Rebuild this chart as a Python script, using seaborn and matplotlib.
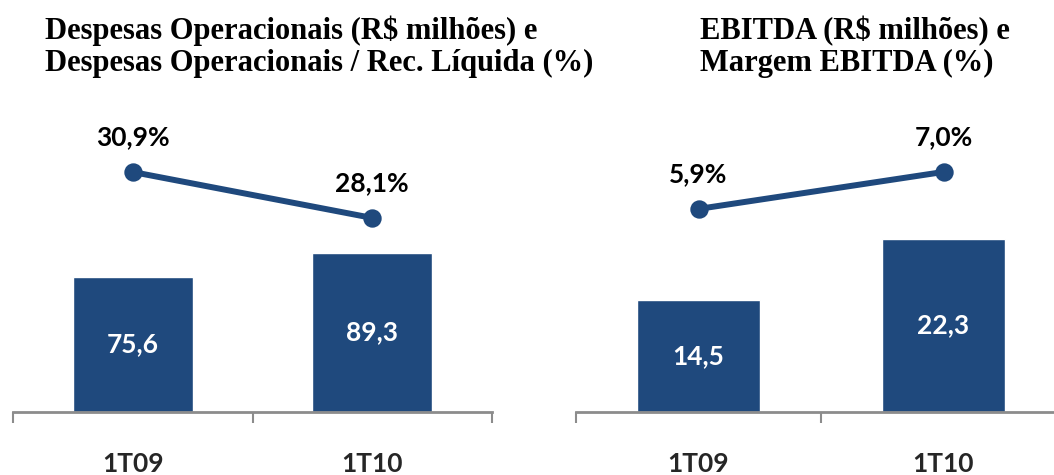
import matplotlib
matplotlib.use("Agg")
import matplotlib.pyplot as plt
import seaborn as sns

# Data
quarters = ["1T09", "1T10"]
despesas = [75.6, 89.3]
despesas_pct = [30.9, 28.1]
ebitda = [14.5, 22.3]
margem_pct = [5.9, 7.0]

bar_color = "#1F497D"
axis_grey = "#8C8C8C"

sns.set_theme(style="white")
plt.rcParams["font.family"] = ["Lato", "DejaVu Sans"]

fig = plt.figure(figsize=(10.54, 4.75), dpi=100)

# axes rectangles in figure fractions (baseline at 63 px from bottom, top at 375 px)
ax_left = fig.add_axes([13 / 1054, 63 / 475, 479 / 1054, 312 / 475])
ax_right = fig.add_axes([576 / 1054, 63 / 475, 490 / 1054, 312 / 475])


def draw_panel(ax, bars, pcts, bar_top, pct_lim):
    sns.barplot(x=quarters, y=bars, ax=ax, color=bar_color, width=0.5, saturation=1)
    ax.set_ylim(0, bar_top)
    ax.set_xlim(-0.5, 1.5)
    for i, v in enumerate(bars):
        ax.text(i, v / 2, f"{v:.1f}".replace(".", ","), ha="center", va="center",
                color="white", fontsize=19, fontweight="bold")

    ax2 = ax.twinx()
    sns.pointplot(x=quarters, y=pcts, ax=ax2, color=bar_color, markersize=10,
                  linewidth=4.3, markers="o")
    ax2.set_ylim(*pct_lim)
    ax2.set_xlim(-0.5, 1.5)
    span = pct_lim[1] - pct_lim[0]
    for i, v in enumerate(pcts):
        ax2.text(i, v + span * 0.112, f"{v:.1f}%".replace(".", ","), ha="center",
                 va="center", color="black", fontsize=19, fontweight="bold")
    ax2.axis("off")

    # axis styling
    for s in ["top", "left", "right"]:
        ax.spines[s].set_visible(False)
    ax.spines["bottom"].set_color(axis_grey)
    ax.spines["bottom"].set_linewidth(2)
    ax.set_yticks([])
    ax.set_xticks([-0.5, 0.5, 1.5])
    ax.set_xticklabels([])
    ax.tick_params(axis="x", which="major", direction="out", length=8, width=1.5,
                   color=axis_grey, bottom=True)
    ax.set_xticks([0, 1], minor=True)
    ax.set_xticklabels(quarters, minor=True, fontsize=19, fontweight="bold")
    ax.tick_params(axis="x", which="minor", length=0, pad=29, bottom=True)
    ax.set_xlabel("")
    ax.set_ylabel("")


draw_panel(ax_left, despesas, despesas_pct, 174.7, (16.27, 35.29))
draw_panel(ax_right, ebitda, margem_pct, 40.26, (-0.14, 9.14))

title_font = dict(family="Liberation Serif", fontsize=22, fontweight="bold",
                  color="black", ha="left", va="center", linespacing=1.15)
fig.text(45 / 1054, 1 - 47 / 475,
         "Despesas Operacionais (R$ milhões) e\nDespesas Operacionais / Rec. Líquida (%)",
         **title_font)
fig.text(700 / 1054, 1 - 47 / 475, "EBITDA (R$ milhões) e\nMargem EBITDA (%)",
         **title_font)

fig.savefig("out.png", dpi=100)
